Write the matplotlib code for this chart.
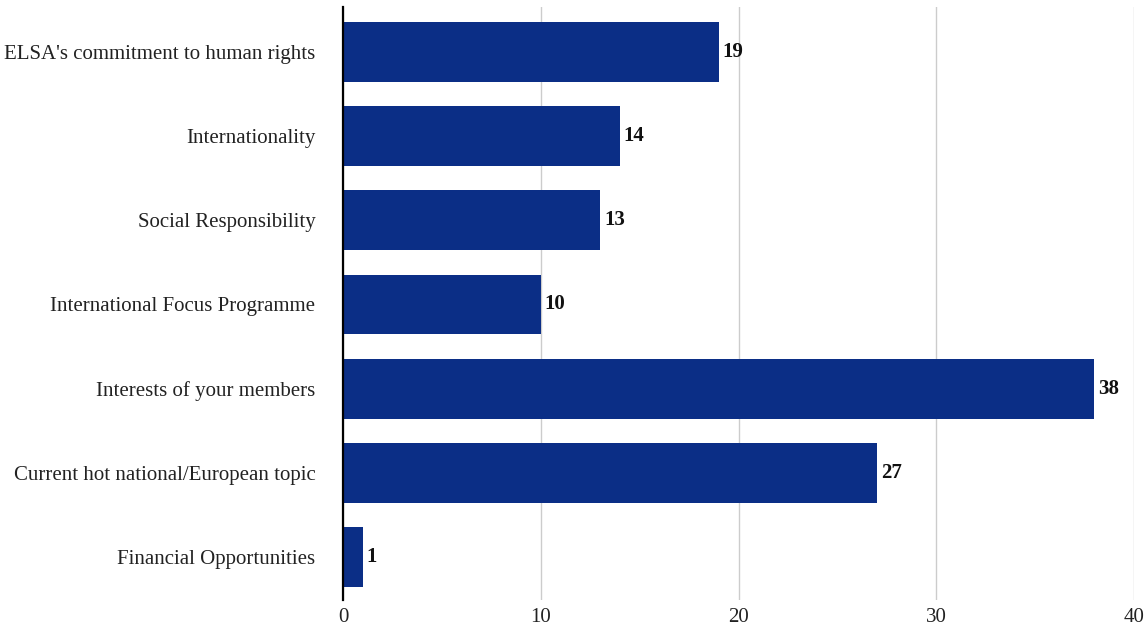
import matplotlib
matplotlib.use("Agg")
import matplotlib.pyplot as plt

categories = ["ELSA's commitment to human rights", "Internationality", "Social Responsibility",
              "International Focus Programme", "Interests of your members",
              "Current hot national/European topic", "Financial Opportunities"]
values = [19, 14, 13, 10, 38, 27, 1]
xticks = [0, 10, 20, 30, 40]

plt.rcParams['font.family'] = ['Liberation Serif', 'DejaVu Serif']

fig = plt.figure(figsize=(11.45, 6.28), dpi=100)
ax = fig.add_axes([0.2996, 0.04459, 0.6908, 0.94426])
y = list(range(len(categories)))
ax.barh(y, values, height=0.71, color='#0b2e86', zorder=3)
ax.set_ylim(6.511, -0.5346)
ax.set_xlim(0, 40)
ax.set_yticks(y)
ax.set_yticklabels(categories, fontsize=15, color='#222222')
ax.set_xticks(xticks)
ax.set_xticklabels([str(t) for t in xticks], fontsize=15, color='#222222')
ax.tick_params(length=0)
ax.tick_params(axis='y', pad=20)
ax.tick_params(axis='x', pad=6)
for s in ['top', 'right', 'bottom']:
    ax.spines[s].set_visible(False)
ax.spines['left'].set_linewidth(1.6)
ax.spines['left'].set_color('black')
ax.spines['left'].set_zorder(4)
ax.grid(axis='x', color='#cccccc', linewidth=1, zorder=0)
ax.set_axisbelow(True)
for yi, v in zip(y, values):
    ax.text(v + 0.2, yi, str(v), va='center', ha='left', fontsize=15, fontweight='bold', color='#111111')
fig.savefig('out.png', dpi=100)
